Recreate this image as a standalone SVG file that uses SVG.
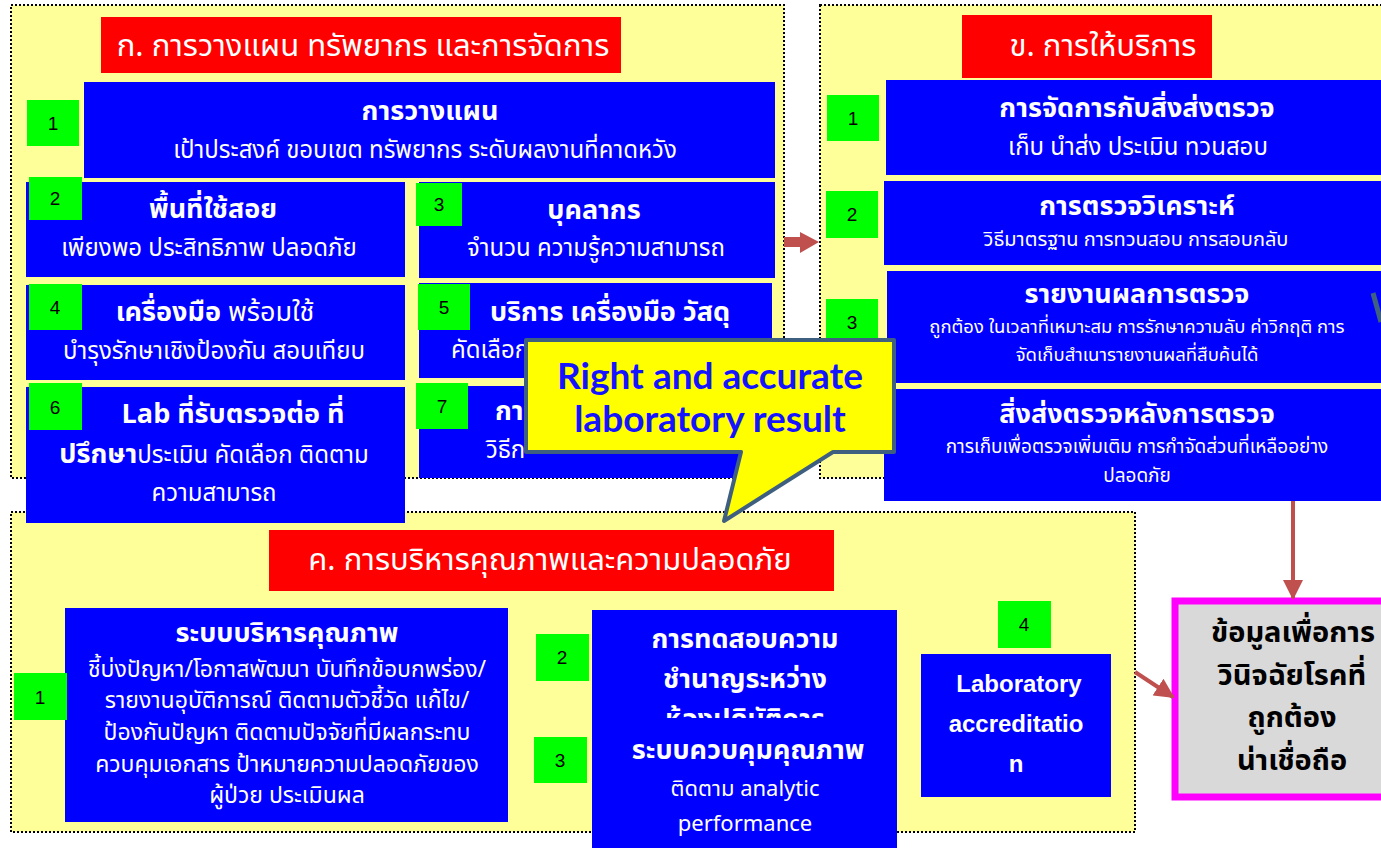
<svg xmlns="http://www.w3.org/2000/svg" width="1381" height="848" viewBox="0 0 1381 848">
  <style>
    .sec { fill: #FFFF99; stroke: #000; stroke-width: 2; stroke-dasharray: 2 2; }
    .hdr { fill: #FF0000; }
    .box { fill: #0000FF; }
    .tag { fill: #00FF00; }
    .tagt { font-family: "Liberation Sans", Arial, sans-serif; font-size: 19px; fill: #000; text-anchor: middle; }
    .th { font-family: "Noto Sans Thai", "Noto Sans", "DejaVu Sans", sans-serif; fill: #FFF; text-anchor: middle; }
    .hd { font-size: 31px; }
    .t1 { font-size: 27px; font-weight: bold; }
    .t2 { font-size: 24px; }
    .t3 { font-size: 20px; }
    .t4 { font-size: 23px; }
    .b { font-weight: bold; }
    .n { font-weight: normal; }
    .la { font-family: "Liberation Sans", Arial, sans-serif; font-size: 24px; font-weight: bold; fill: #FFF; text-anchor: middle; }
    .res { font-family: "Noto Sans Thai", "Noto Sans", "DejaVu Sans", sans-serif; font-size: 29px; font-weight: bold; fill: #000; text-anchor: middle; }
    .arr { fill: none; stroke: #C0504D; stroke-width: 4; }
  </style>
  <defs>
    <marker id="head" viewBox="0 0 10 10" refX="9" refY="5" markerWidth="5" markerHeight="5" orient="auto" markerUnits="strokeWidth">
      <path d="M0,0 L10,5 L0,10 Z" fill="#C0504D"/>
    </marker>
    <clipPath id="c2clip">
      <rect x="592" y="610" width="305" height="108"/>
    </clipPath>
  </defs>

  <rect width="1381" height="848" fill="#FFFFFF"/>

  <!-- section frames -->
  <rect class="sec" x="11" y="5" width="773" height="473"/>
  <rect class="sec" x="11" y="512" width="1124" height="320"/>
  <rect class="sec" x="820" y="5" width="580" height="473"/>

  <!-- ก. planning, resources and management -->
  <g id="hdr-a">
    <rect class="hdr" x="101" y="17" width="520" height="56"/>
    <text class="th hd" x="363" y="56">ก. การวางแผน ทรัพยากร และการจัดการ</text>
  </g>
  <g id="a1">
    <rect class="box" x="84" y="82" width="691" height="96"/>
    <rect class="tag" x="27" y="100" width="52" height="46"/>
    <text class="tagt" x="53" y="130">1</text>
    <text class="th t1" x="430" y="120">การวางแผน</text>
    <text class="th t2" x="425" y="158">เป้าประสงค์ ขอบเขต ทรัพยากร ระดับผลงานที่คาดหวัง</text>
  </g>
  <g id="a2">
    <rect class="box" x="26" y="182" width="379" height="95"/>
    <rect class="tag" x="29" y="177" width="53" height="43"/>
    <text class="tagt" x="55" y="205">2</text>
    <text class="th t1" x="213" y="218">พื้นที่ใช้สอย</text>
    <text class="th t2" x="209" y="256">เพียงพอ ประสิทธิภาพ ปลอดภัย</text>
  </g>
  <g id="a3">
    <rect class="box" x="419" y="182" width="356" height="96"/>
    <rect class="tag" x="416" y="183" width="46" height="43"/>
    <text class="tagt" x="439" y="211">3</text>
    <text class="th t1" x="594" y="219">บุคลากร</text>
    <text class="th t2" x="596" y="256">จำนวน ความรู้ความสามารถ</text>
  </g>
  <g id="a4">
    <rect class="box" x="26" y="285" width="379" height="95"/>
    <rect class="tag" x="29" y="284" width="53" height="46"/>
    <text class="tagt" x="55" y="314">4</text>
    <text class="th t1" x="215" y="321">เครื่องมือ<tspan class="n"> พร้อมใช้</tspan></text>
    <text class="th t2" x="214" y="359">บำรุงรักษาเชิงป้องกัน สอบเทียบ</text>
  </g>
  <g id="a5">
    <rect class="box" x="419" y="283" width="353" height="95"/>
    <rect class="tag" x="418" y="284" width="52" height="46"/>
    <text class="tagt" x="444" y="314">5</text>
    <text class="th t1" x="610" y="321">บริการ เครื่องมือ วัสดุ</text>
    <text class="th t2" x="451" y="358" style="text-anchor:start">คัดเลือก</text>
  </g>
  <g id="a7">
    <rect class="box" x="419" y="386" width="353" height="92"/>
    <rect class="tag" x="416" y="383" width="52" height="46"/>
    <text class="tagt" x="442" y="413">7</text>
    <text class="th t1" x="495" y="420" style="text-anchor:start">กา</text>
    <text class="th t2" x="486" y="458" style="text-anchor:start">วิธีก</text>
  </g>
  <g id="a6">
    <rect class="box" x="26" y="387" width="379" height="136"/>
    <rect class="tag" x="29" y="383" width="53" height="47"/>
    <text class="tagt" x="55" y="414">6</text>
    <text class="th t1" x="233" y="423">Lab ที่รับตรวจต่อ ที่</text>
    <text class="th t2" x="214" y="463"><tspan class="b" font-size="27">ปรึกษา</tspan>ประเมิน คัดเลือก ติดตาม</text>
    <text class="th t2" x="214" y="501">ความสามารถ</text>
  </g>

  <!-- ข. service -->
  <g id="hdr-b">
    <rect class="hdr" x="962" y="15" width="250" height="63"/>
    <text class="th hd" x="1103" y="56" font-size="33">ข. การให้บริการ</text>
  </g>
  <g id="b1">
    <rect class="box" x="886" y="80" width="500" height="95"/>
    <rect class="tag" x="827" y="95" width="52" height="46"/>
    <text class="tagt" x="853" y="125">1</text>
    <text class="th t1" x="1137" y="117">การจัดการกับสิ่งส่งตรวจ</text>
    <text class="th t2" x="1138" y="155">เก็บ นำส่ง ประเมิน ทวนสอบ</text>
  </g>
  <g id="b2">
    <rect class="box" x="884" y="181" width="502" height="84"/>
    <rect class="tag" x="826" y="191" width="52" height="47"/>
    <text class="tagt" x="852" y="221">2</text>
    <text class="th t1" x="1137" y="215" font-size="28">การตรวจวิเคราะห์</text>
    <text class="th t3" x="1136" y="246">วิธีมาตรฐาน การทวนสอบ การสอบกลับ</text>
  </g>
  <g id="b3">
    <rect class="box" x="887" y="271" width="499" height="112"/>
    <rect class="tag" x="826" y="299" width="52" height="46"/>
    <text class="tagt" x="852" y="329">3</text>
    <text class="th t1" x="1137" y="303" font-size="27">รายงานผลการตรวจ</text>
    <text class="th" x="1137" y="333" font-size="18.5">ถูกต้อง ในเวลาที่เหมาะสม การรักษาความลับ ค่าวิกฤติ การ</text>
    <text class="th" x="1137" y="361" font-size="18.5">จัดเก็บสำเนารายงานผลที่สืบค้นได้</text>
  </g>
  <g id="b4">
    <rect class="box" x="884" y="389" width="502" height="112"/>
    <text class="th t1" x="1137" y="423" font-size="28">สิ่งส่งตรวจหลังการตรวจ</text>
    <text class="th" x="1137" y="453" font-size="19">การเก็บเพื่อตรวจเพิ่มเติม การกำจัดส่วนที่เหลืออย่าง</text>
    <text class="th" x="1137" y="482" font-size="19">ปลอดภัย</text>
  </g>

  <!-- ค. quality and safety management -->
  <g id="hdr-c">
    <rect class="hdr" x="269" y="530" width="565" height="61"/>
    <text class="th hd" x="550" y="570" font-size="33">ค. การบริหารคุณภาพและความปลอดภัย</text>
  </g>
  <g id="c1">
    <rect class="box" x="65" y="608" width="443" height="214"/>
    <rect class="tag" x="14" y="673" width="53" height="47"/>
    <text class="tagt" x="40" y="704">1</text>
    <text class="th t1" x="287" y="642" font-size="26">ระบบบริหารคุณภาพ</text>
    <text class="th t4" x="287" y="677">ชี้บ่งปัญหา/โอกาสพัฒนา บันทึกข้อบกพร่อง/</text>
    <text class="th t4" x="287" y="708">รายงานอุบัติการณ์ ติดตามตัวชี้วัด แก้ไข/</text>
    <text class="th t4" x="287" y="740">ป้องกันปัญหา ติดตามปัจจัยที่มีผลกระทบ</text>
    <text class="th t4" x="287" y="772">ควบคุมเอกสาร ป้าหมายความปลอดภัยของ</text>
    <text class="th t4" x="287" y="803">ผู้ป่วย ประเมินผล</text>
  </g>
  <g id="c2">
    <rect class="box" x="592" y="610" width="305" height="108"/>
    <rect class="tag" x="536" y="634" width="53" height="47"/>
    <text class="tagt" x="562" y="664">2</text>
    <g clip-path="url(#c2clip)">
      <text class="th t1" x="745" y="648" font-size="28">การทดสอบความ</text>
      <text class="th t1" x="745" y="688" font-size="28">ชำนาญระหว่าง</text>
      <text class="th t1" x="745" y="728" font-size="28">ห้องปฏิบัติการ</text>
    </g>
  </g>
  <g id="c3">
    <rect class="box" x="592" y="718" width="305" height="130"/>
    <rect class="tag" x="534" y="737" width="53" height="46"/>
    <text class="tagt" x="560" y="767">3</text>
    <text class="th t1" x="748" y="759" font-size="28">ระบบควบคุมคุณภาพ</text>
    <text class="th" x="745" y="796" font-size="22">ติดตาม analytic</text>
    <text class="th" x="745" y="831" font-size="22">performance</text>
  </g>
  <g id="c4">
    <rect class="tag" x="998" y="601" width="53" height="47"/>
    <text class="tagt" x="1024" y="631">4</text>
    <rect class="box" x="921" y="654" width="190" height="143"/>
    <text class="la" x="1019" y="692">Laboratory</text>
    <text class="la" x="1016" y="732">accreditatio</text>
    <text class="la" x="1016" y="772">n</text>
  </g>

  <!-- outcome -->
  <g id="result">
    <rect x="1175" y="601" width="220" height="196" fill="#D9D9D9" stroke="#FF00FF" stroke-width="7"/>
    <text class="res" x="1293" y="642">ข้อมูลเพื่อการ</text>
    <text class="res" x="1292" y="685">วินิจฉัยโรคที่</text>
    <text class="res" x="1292" y="727">ถูกต้อง</text>
    <text class="res" x="1292" y="770">น่าเชื่อถือ</text>
  </g>

  <!-- connectors -->
  <g id="connectors">
    <path d="M784,237 L800,237 L800,232 L819,242 L800,253 L800,247 L784,247 Z" fill="#C0504D"/>
    <line class="arr" x1="1293" y1="501" x2="1293" y2="598" marker-end="url(#head)"/>
    <line class="arr" x1="1135" y1="672" x2="1173" y2="697" marker-end="url(#head)"/>
    <line x1="1373" y1="293" x2="1381" y2="322" stroke="#3F6080" stroke-width="5"/>
  </g>

  <!-- callout -->
  <g id="callout">
    <path d="M526,340 L894,340 L894,452 L833,452 L724,521 L741,452 L526,452 Z" fill="#FFFF00" stroke="#3F5F80" stroke-width="4" stroke-linejoin="round"/>
    <text x="710" y="389" font-family="Lato, 'Open Sans', sans-serif" font-weight="bold" font-size="37" fill="#1414FF" text-anchor="middle">Right and accurate</text>
    <text x="710" y="432" font-family="Lato, 'Open Sans', sans-serif" font-weight="bold" font-size="37" fill="#1414FF" text-anchor="middle">laboratory result</text>
  </g>
</svg>
